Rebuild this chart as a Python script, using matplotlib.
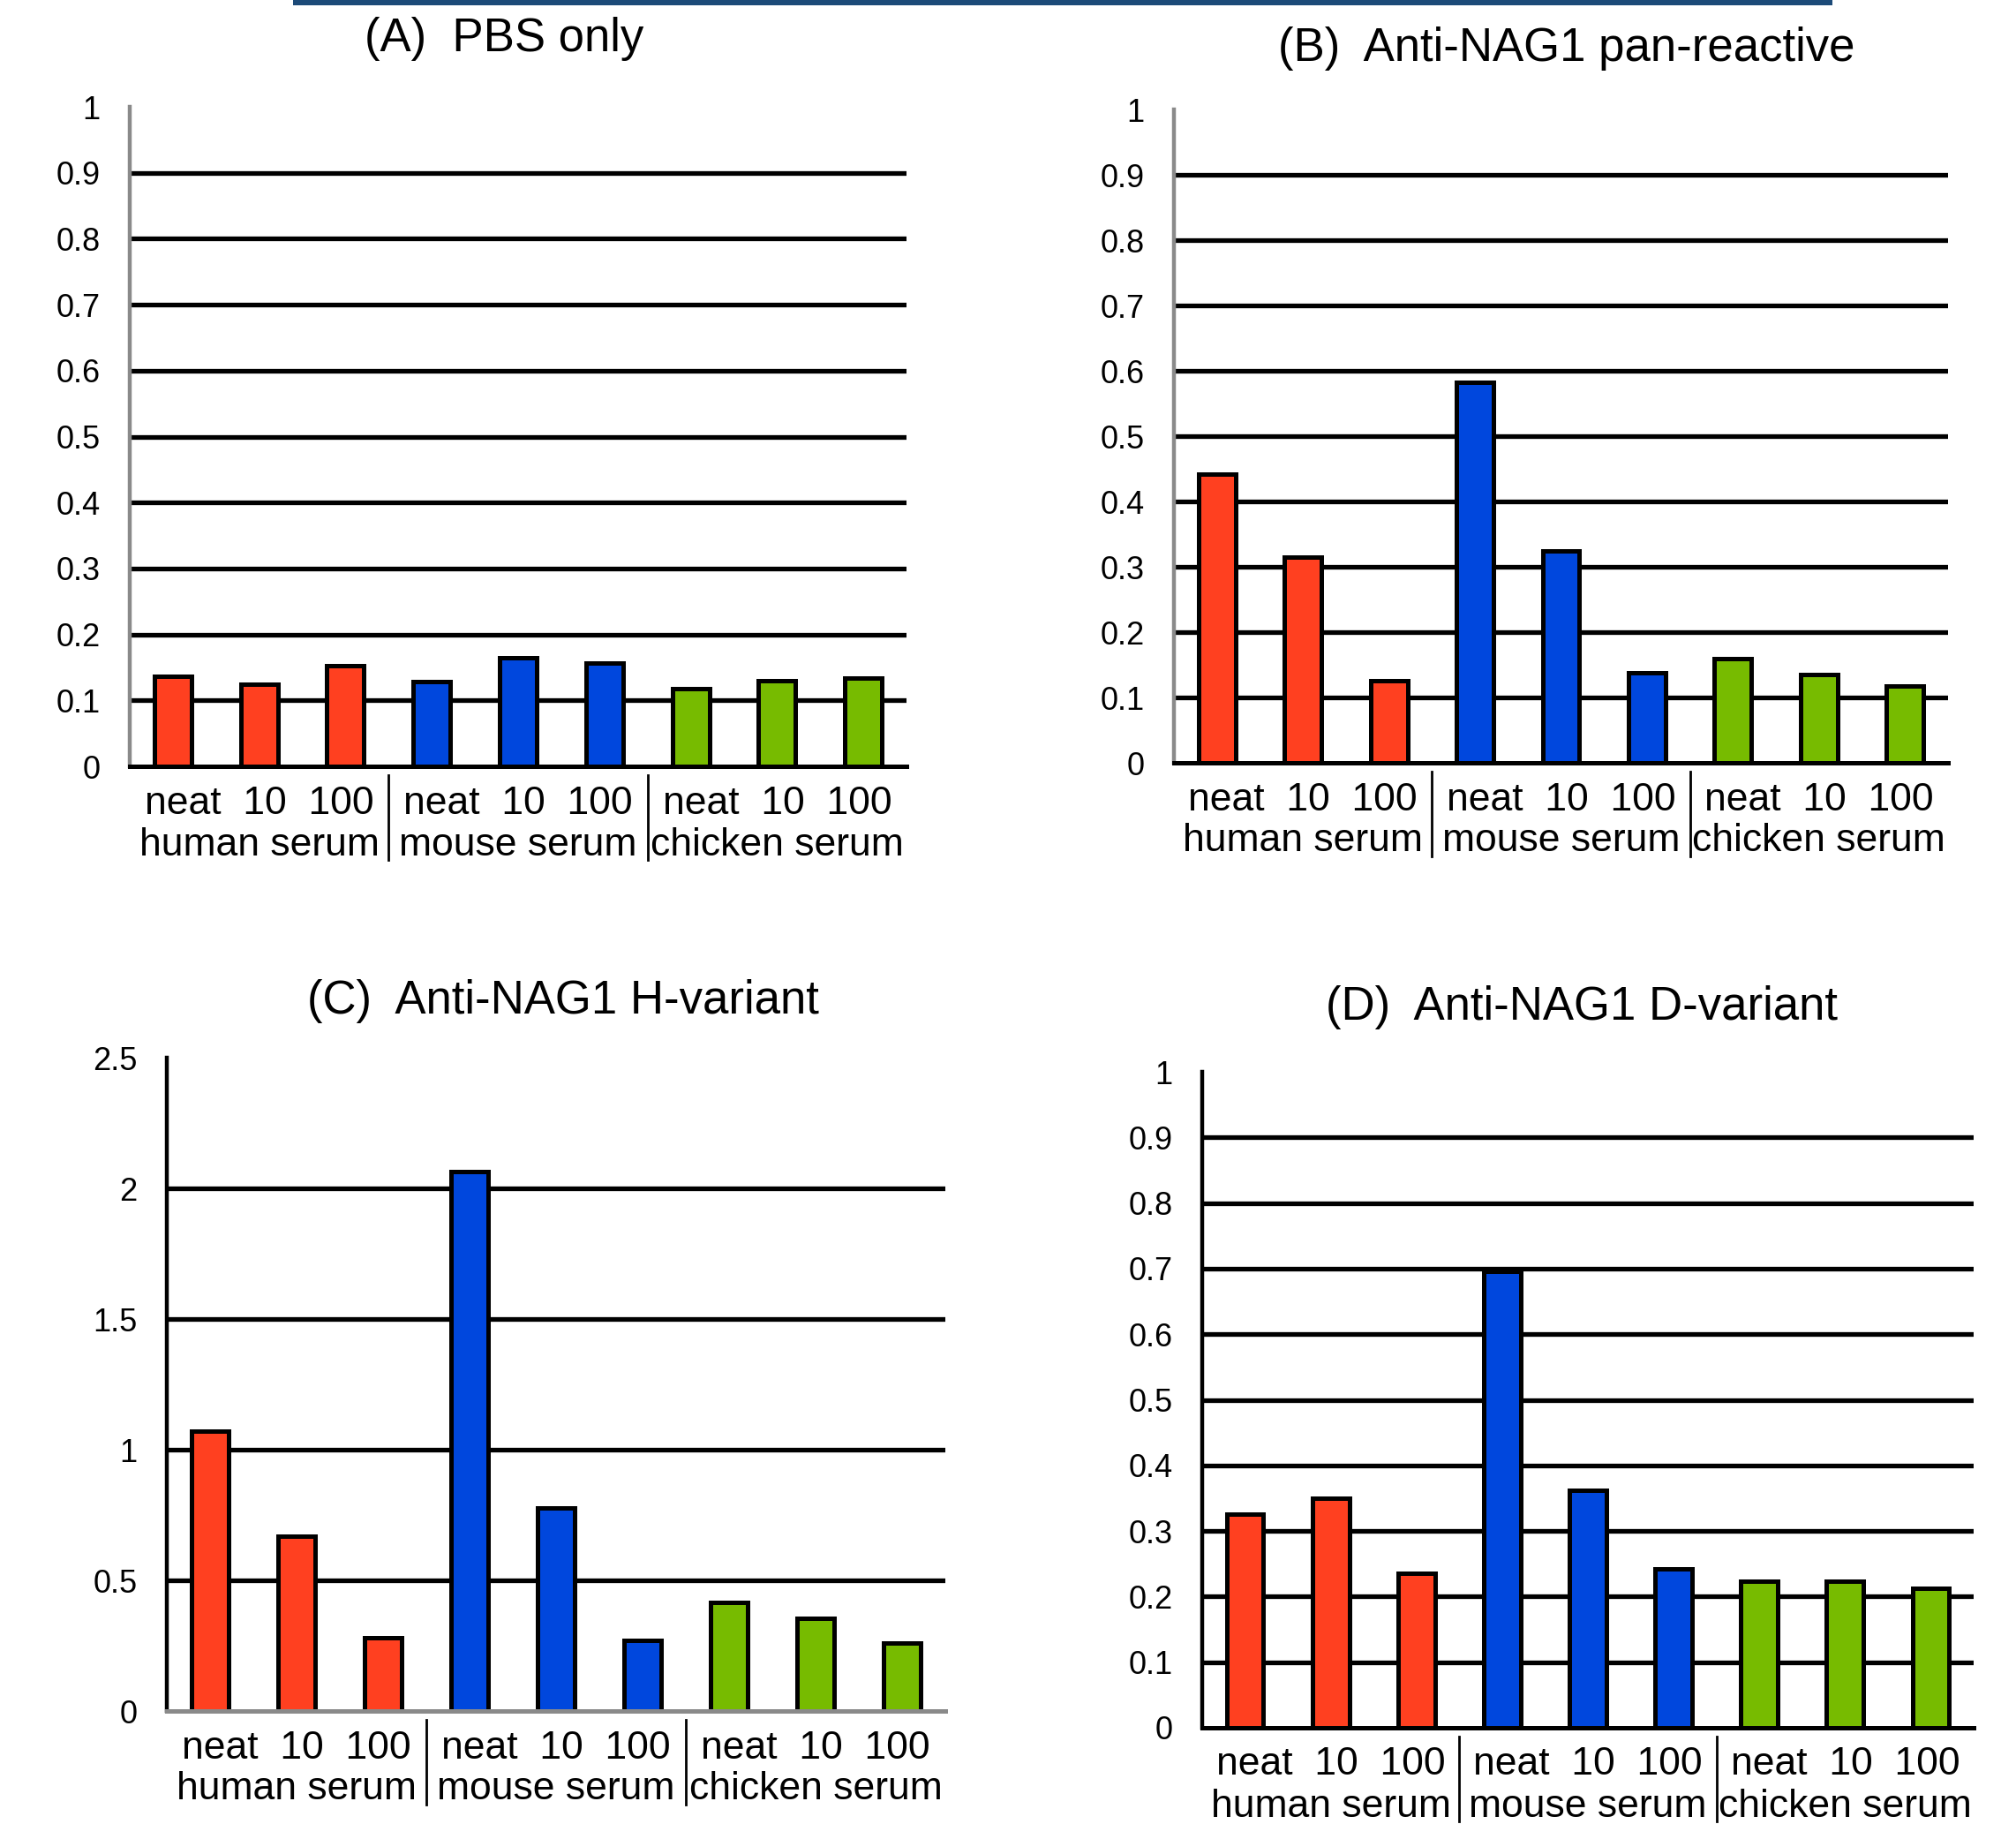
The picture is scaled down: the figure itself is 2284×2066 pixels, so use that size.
import matplotlib
matplotlib.use('Agg')
import matplotlib.pyplot as plt
from matplotlib.patches import Rectangle

plt.rcParams['font.family'] = ['Liberation Sans', 'DejaVu Sans']

W, H = 2284, 2066
DPI = 100

dilutions = ['neat', '10', '100']
sera = ['human serum', 'mouse serum', 'chicken serum']
serum_colors = ['#FF4020', '#0047DD', '#77BB00']

titles = ['(A)  PBS only', '(B)  Anti-NAG1 pan-reactive',
          '(C)  Anti-NAG1 H-variant', '(D)  Anti-NAG1 D-variant']

# optical density per serum/dilution
pbs_only = [0.137, 0.124, 0.152, 0.128, 0.165, 0.156, 0.118, 0.130, 0.134]
pan_reactive = [0.442, 0.315, 0.126, 0.583, 0.324, 0.138, 0.160, 0.135, 0.118]
h_variant = [1.072, 0.669, 0.280, 2.063, 0.777, 0.270, 0.414, 0.354, 0.261]
d_variant = [0.326, 0.350, 0.236, 0.696, 0.362, 0.242, 0.224, 0.224, 0.212]

y_max = [1, 1, 2.5, 1]
y_step = [0.1, 0.1, 0.5, 0.1]
tick_labels = [
    ['0', '0.1', '0.2', '0.3', '0.4', '0.5', '0.6', '0.7', '0.8', '0.9', '1'],
    ['0', '0.1', '0.2', '0.3', '0.4', '0.5', '0.6', '0.7', '0.8', '0.9', '1'],
    ['0', '0.5', '1', '1.5', '2', '2.5'],
    ['0', '0.1', '0.2', '0.3', '0.4', '0.5', '0.6', '0.7', '0.8', '0.9', '1'],
]
data = [pbs_only, pan_reactive, h_variant, d_variant]

# axes boxes in pixels: left, zero line y, right, top y
boxes = [(147, 868, 1027, 121), (1330, 864, 2207, 124),
         (189, 1938, 1071, 1198), (1362, 1957, 2236, 1214)]
title_pos = [(571, 44), (1775, 55), (638, 1134), (1792, 1141)]
yspine_col = ['#8a8a8a', '#8a8a8a', 'black', 'black']
xspine_col = ['black', 'black', '#8a8a8a', 'black']

fig = plt.figure(figsize=(W / DPI, H / DPI), dpi=DPI)
fig.add_artist(Rectangle((332 / W, 1 - 6 / H), (2076 - 332) / W, 6 / H,
                         transform=fig.transFigure, color='#1c4a78', lw=0))

dil_line = '  '.join(dilutions)

for i in range(4):
    x0, y0, x1, y1 = boxes[i]
    ax = fig.add_axes([x0 / W, 1 - y0 / H, (x1 - x0) / W, (y0 - y1) / H])
    vals = data[i]
    cols = [serum_colors[k // 3] for k in range(9)]
    ax.bar(range(9), vals, width=0.43, color=cols, edgecolor='black',
           linewidth=3.6, zorder=3)
    ax.set_xlim(-0.5, 8.5)
    ax.set_ylim(0, y_max[i])
    ticks = [j * y_step[i] for j in range(len(tick_labels[i]))]
    ax.set_yticks(ticks)
    ax.set_yticklabels(tick_labels[i])
    for t in ticks[1:-1]:
        ax.axhline(t, color='black', lw=3.8, zorder=1)
    ax.set_xticks([])
    ax.tick_params(axis='y', length=0, pad=24, labelsize=26)
    for s in ['top', 'right']:
        ax.spines[s].set_visible(False)
    ax.spines['left'].set_color(yspine_col[i])
    ax.spines['left'].set_linewidth(3.2)
    ax.spines['bottom'].set_color(xspine_col[i])
    ax.spines['bottom'].set_linewidth(3.6)
    ax.spines['left'].set_zorder(4)
    ax.spines['bottom'].set_zorder(4)

    for g in range(3):
        ax.annotate(dil_line, (3 * g + 1, 0), xycoords=('data', 'axes fraction'),
                    xytext=(0, -42 * 0.72), textcoords='offset points',
                    ha='center', va='center', fontsize=32)
        ax.annotate(sera[g], (3 * g + 1, 0), xycoords=('data', 'axes fraction'),
                    xytext=(0, -89 * 0.72), textcoords='offset points',
                    ha='center', va='center', fontsize=32)
    h_px = y0 - y1
    for g in (2.5, 5.5):
        ax.plot([g, g], [-10 / h_px, -106 / h_px], color='black', lw=2,
                transform=ax.get_xaxis_transform(), clip_on=False)

    tx, ty = title_pos[i]
    fig.text(tx / W, 1 - ty / H, titles[i], ha='center', va='center', fontsize=38)

fig.savefig('out.png', dpi=DPI)
